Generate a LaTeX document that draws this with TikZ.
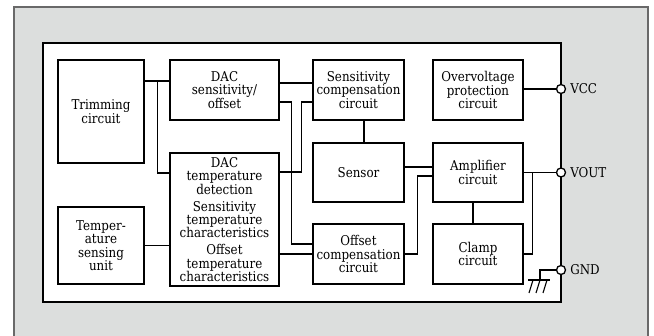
\documentclass[tikz,border=0pt]{standalone}
\usepackage{fontspec}
\setmainfont{DejaVu Serif}[FakeStretch = 0.88]
\definecolor{panelgray}{RGB}{220,222,221}
\definecolor{panelline}{RGB}{105,105,105}
\begin{document}
\begin{tikzpicture}[
    x = 1pt, y = -1pt, line width = 1.3pt,
    every node/.style = {font = \fontsize{13.5}{13.4}\selectfont, align = center, inner sep = 0pt},
    block/.style = {draw, line width = 1.3pt, fill = white},
    terminal/.style = {draw, circle, fill = white, minimum size = 9pt, line width = 1.3pt},
    termlabel/.style = {label = {[label distance = 3.5pt]right:#1}}
  ]
  \useasboundingbox (0,0) rectangle (654,336);
  % grey panel and chip outline
  \fill[panelgray] (14,7) rectangle (648,345);
  \draw[panelline, line width = 1.5pt] (14,345) -- (14,7) -- (648,7) -- (648,345);
  \draw[line width = 2.6pt, fill = white] (43,43) rectangle (561,302);

  \node[block, minimum width = 86pt, minimum height = 103pt] (trim) at (101,111.5) {Trimming\\circuit};
  \node[block, minimum width = 109pt, minimum height = 60pt] (dacso) at (224.5,90) {DAC\\sensitivity/\\offset};
  \node[block, minimum width = 91pt, minimum height = 60pt] (senscomp) at (358.5,90) {Sensitivity\\compensation\\circuit};
  \node[block, minimum width = 90pt, minimum height = 60pt] (ovp) at (478,90) {Overvoltage\\protection\\circuit};
  \node[block, minimum width = 91pt, minimum height = 59pt] (sensor) at (358.5,172.5) {Sensor};
  \node[block, minimum width = 90pt, minimum height = 59pt] (amp) at (478,172.5) {Amplifier\\circuit};
  \node[block, minimum width = 91pt, minimum height = 60pt] (offcomp) at (358.5,254) {Offset\\compensation\\circuit};
  \node[block, minimum width = 90pt, minimum height = 60pt] (clamp) at (478,254) {Clamp\\circuit};
  \node[block, minimum width = 109pt, minimum height = 133pt] (dactemp) at (224.5,219.5)
    {DAC\\temperature\\detection\\[3.5pt]Sensitivity\\temperature\\characteristics\\[3.5pt]Offset\\temperature\\characteristics};
  \node[block, minimum width = 86pt, minimum height = 77pt] (tsu) at (101,245.5) {Temper-\\ature\\sensing\\unit};

  % trimming bus
  \coordinate (trimtap) at ([yshift = 9pt]dacso.west);
  \draw (trim.east |- trimtap) -- (trimtap);
  \draw ([xshift = 13pt]trim.east |- trimtap) |- ([yshift = 46.5pt]dactemp.west);
  \draw (tsu.east) -- (tsu.east -| dactemp.west);

  % DAC outputs
  \draw ([yshift = 7pt]dacso.east) -- ([yshift = 7pt]dacso.east -| senscomp.west);
  \draw ([yshift = -12pt]dacso.east) -| ([xshift = 12pt, yshift = 10pt]dacso.east |- offcomp.west)
    -- ([yshift = 10pt]offcomp.west);
  \draw ([yshift = 47.5pt]dactemp.east) -| ([xshift = -11pt, yshift = -12pt]senscomp.west)
    -- ([yshift = -12pt]senscomp.west);
  \draw (dactemp.east |- offcomp.west) -- (offcomp.west);

  % signal path
  \draw ([xshift = 5.5pt]senscomp.south) -- ([xshift = 5.5pt]sensor.north);
  \draw ([yshift = 5.5pt]sensor.east) -- ([yshift = 5.5pt]sensor.east -| amp.west);
  \draw (offcomp.east) -| ([xshift = -15pt, yshift = -3.5pt]amp.west) -- ([yshift = -3.5pt]amp.west);
  \draw ([xshift = -5pt]amp.south) -- ([xshift = -5pt]clamp.north);
  \draw (clamp.east) -| ([xshift = 9pt]amp.east);

  % pins
  \node[terminal, termlabel = VCC] (vcc) at (561,89) {};
  \node[terminal, termlabel = VOUT] (vout) at (561,172.5) {};
  \node[terminal, termlabel = GND] (gnd) at (561,270) {};
  \draw (ovp.east |- vcc) -- (vcc);
  \draw (amp.east) -- (vout);

  % ground
  \coordinate (gndtop) at (540,280);
  \draw (gnd.west) -| (gndtop);
  \draw (528,280) -- (550,280);
  \foreach \x in {533,540,547}
    \draw[line width = 1.1pt] (\x,280) -- ++(-4,13);
\end{tikzpicture}
\end{document}
